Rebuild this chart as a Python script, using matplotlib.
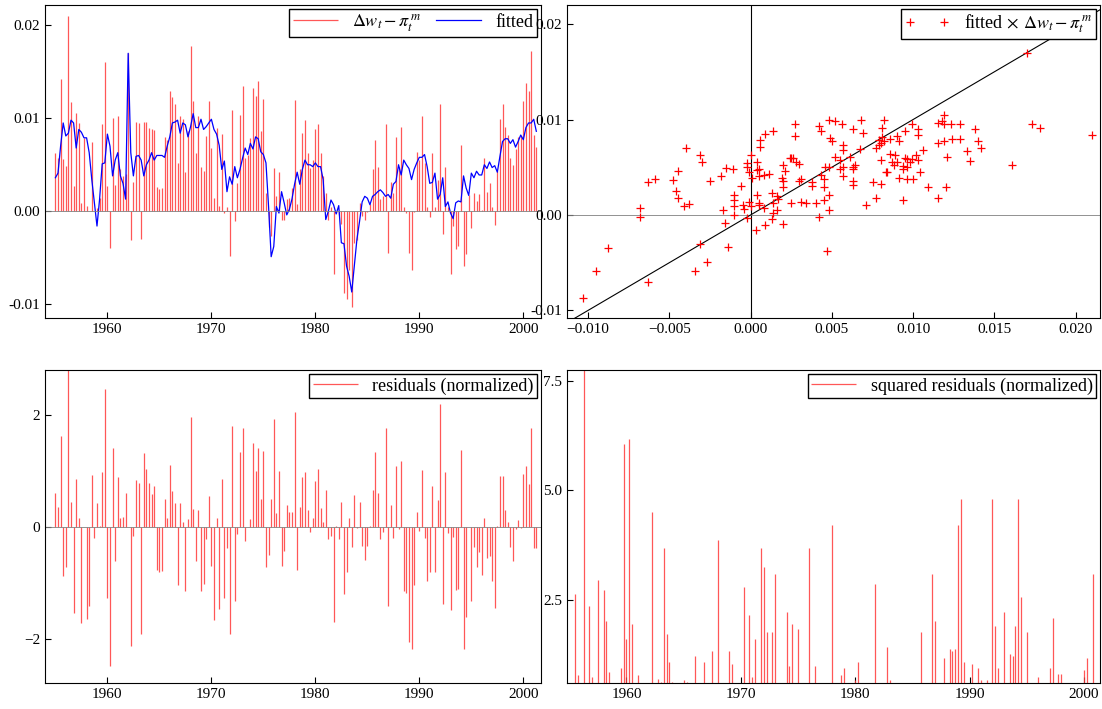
import numpy as np
import matplotlib
matplotlib.use("Agg")
import matplotlib.pyplot as plt

plt.rcParams["font.family"] = ["Liberation Serif", "DejaVu Serif"]
plt.rcParams["mathtext.fontset"] = "stix"

# quarterly observations, starting 1955Q1
actual = [
    .0063, .0057, .0142, .0056, .0049, .021, .0118, .0027, .0106, .0095,
    .0009, .0079, .0006, .0, .0075, .0, .0003, .0014, .0094, .0161,
    .0027, -.004, .010, .0028, .0102, .0045, .0038, .004, .017, -.0031,
    .0031, .0096, .0095, -.003, .0096, .0096, .009, .0089, .0087, .0026,
    .0024, .0025, .008, .0077, .0129, .0123,
    .0115, .0052, .0103, .0099, .0042, .0086, .0178, .0119, .0063, .0103,
    .0048, .0043, .0081, .0119, .0068, .0014, .009, .0006, .0083, -.0002,
    .0004, -.0048, .0109, -.0011, .003, .0104, .0135, .0057, .0061, .0079,
    .0133, .0124, .014, .0086, .0121, .002, -.0017, -.0027, .0047, .0016,
    .0042, -.001, -.001, .0013, .0014, .0025, .012, .0008, .0045,
    .0084, .0098, .0063, .0046, .0055, .0088, .0094, .0063, .0038, .002,
    -.001, .0005, -.0068, -.0002, -.0004, -.0014, -.0088, -.0095, -.0063, -.0103,
    -.0034, -.0031, .0009, -.0005, -.001, -.0001, .0008, .0045, .0077, .0048,
    .0013, .0016, .0094, -.0045, .0031, .002, .008, .0048, .0091, .0004,
    -.0002, -.0045, -.0063, -.0001, .0064, .0055, .0103, .0052,
    .0005, -.0006, .0063, .0005, .0034, .0115, -.0025, .0048, .0005, -.0068,
    -.0016, -.0041, -.0038, .0071, -.0059, -.0046, .0017, -.0018, .002, .0011,
    .0019, .0001, .0057, .0021, .003, .0004, -.0015, .0043, .0099, .0115,
    .0091, .0082, .0057, .005, .0067, .008, .0081, .0119, .0138, .0129,
    .0173, .0082, .0069,
]
fitted = [
    .0036, .0041, .007, .0095, .0081, .0084, .0098, .0095, .0068, .0088,
    .0085, .0079, .0079, .0063, .0034, .0009, -.0016, .0013, .0051, .0052,
    .0083, .007, .0038, .0055, .0063, .0038, .003, .0013, .017, .0063,
    .0038, .0059, .006, .0055, .0038, .005, .0055, .0063, .0055, .006,
    .006, .006, .0058, .007, .008, .0095,
    .0096, .0098, .0084, .0095, .0093, .008, .0091, .0105, .009, .009,
    .0099, .0088, .0091, .0095, .0099, .0088, .0083, .0071, .0045, .0054,
    .0021, .0037, .0029, .0048, .0036, .0045, .0057, .0068, .0061, .0073,
    .0067, .008, .0078, .0064, .0061, .0052, .0005, -.0049, -.0038, .0005,
    -.0002, .0021, .0009, -.0004, .0002, .0013, .0029, .0042, .0029,
    .0045, .0055, .005, .005, .0048, .0052, .0048, .0048, .0034, -.0009,
    0, .0012, .0007, -.0003, .0006, -.0034, -.0035, -.0059, -.007, -.0087,
    -.0059, -.003, -.0011, .001, .0016, .0014, .0007, .0016, .0018, .0021,
    .0023, .002, .0016, .0018, .0014, .0029, .0032, .005, .0039, .0055,
    .005, .0046, .0034, .0045, .0052, .0058, .0058, .0061,
    .0048, .003, .0031, .0041, .0013, .0018, .0036, .0005, .001, -.0002,
    -.0008, .0009, .0011, .001, .0038, .0025, .0017, .0041, .0036, .0043,
    .0039, .0039, .005, .0046, .0053, .0047, .0049, .0042, .0059, .0075,
    .0078, .0078, .0073, .0077, .0069, .0075, .0082, .0077, .009, .0095,
    .0095, .0099, .0086,
]

actual = np.array(actual)
fitted = np.array(fitted)
t = 1955 + np.arange(len(actual)) * 0.25
resid = actual - fitted
resid = resid / resid.std()
sq = resid ** 2

W, H = 1102, 709
fig = plt.figure(figsize=(W / 100, H / 100), dpi=100)


def box(l, r, top, bot):
    return [l / W, 1 - bot / H, (r - l) / W, (bot - top) / H]


def style(ax):
    ax.tick_params(direction="in", labelsize=11, length=4, top=False, right=False)
    for s in ax.spines.values():
        s.set_linewidth(0.8)


RED = "#ff3a3a"
LEG = dict(fancybox=False, edgecolor="black", fontsize=13, borderpad=0.2,
           borderaxespad=0.2, framealpha=1, handlelength=2.5)

ax1 = fig.add_axes(box(45, 541, 5, 318))
ax1.vlines(t, 0, actual, color=RED, lw=0.9, alpha=0.85, label=r"$\Delta w_t - \pi_t^{\,m}$")
ax1.plot(t, fitted, color="blue", lw=0.9, label="fitted")
ax1.axhline(0, color="gray", lw=0.6)
ax1.set_xlim(1954.0, 2001.7)
ax1.set_ylim(-0.0115, 0.0222)
ax1.set_yticks([-0.01, 0, 0.01, 0.02])
ax1.set_yticklabels(["-0.01", "0.00", "0.01", "0.02"])
ax1.set_xticks([1960, 1970, 1980, 1990, 2000])
ax1.legend(loc="upper right", ncol=2, columnspacing=0.8, **LEG)
style(ax1)

ax2 = fig.add_axes(box(567, 1100, 5, 318))
ax2.axvline(0, color="black", lw=0.8)
ax2.axhline(0, color="gray", lw=0.6)
lim = np.array([-0.012, 0.023])
ax2.plot(lim, lim, color="black", lw=0.8)
ax2.plot(actual, fitted, "+", color="red", ms=6, mew=0.9,
         label=r"fitted$\,\times\,\Delta w_t - \pi_t^{\,m}$")
ax2.set_xlim(-0.0113, 0.0215)
ax2.set_ylim(-0.0108, 0.022)
ax2.set_xticks([-0.01, -0.005, 0, 0.005, 0.01, 0.015, 0.02])
ax2.set_xticklabels(["\u22120.010", "\u22120.005", "0.000", "0.005", "0.010", "0.015", "0.020"])
ax2.set_yticks([-0.01, 0, 0.01, 0.02])
ax2.set_yticklabels(["-0.01", "0.00", "0.01", "0.02"])
ax2.legend(loc="upper right", numpoints=2, **LEG)
style(ax2)

ax3 = fig.add_axes(box(45, 541, 370, 683))
ax3.vlines(t, 0, resid, color=RED, lw=0.9, alpha=0.85, label="residuals (normalized)")
ax3.axhline(0, color="gray", lw=0.6)
ax3.set_xlim(1954.0, 2001.7)
ax3.set_ylim(-2.79, 2.8)
ax3.set_yticks([-2, 0, 2])
ax3.set_yticklabels(["\u22122", "0", "2"])
ax3.set_xticks([1960, 1970, 1980, 1990, 2000])
ax3.legend(loc="upper right", **LEG)
style(ax3)

ax4 = fig.add_axes(box(567, 1100, 370, 683))
ax4.vlines(t, 0, sq, color=RED, lw=0.9, alpha=0.85, label="squared residuals (normalized)")
ax4.set_xlim(1954.8, 2001.4)
ax4.set_ylim(0.6, 7.75)
ax4.set_yticks([2.5, 5.0, 7.5])
ax4.set_xticks([1960, 1970, 1980, 1990, 2000])
ax4.legend(loc="upper right", **LEG)
style(ax4)

fig.savefig("out.png", dpi=100)
